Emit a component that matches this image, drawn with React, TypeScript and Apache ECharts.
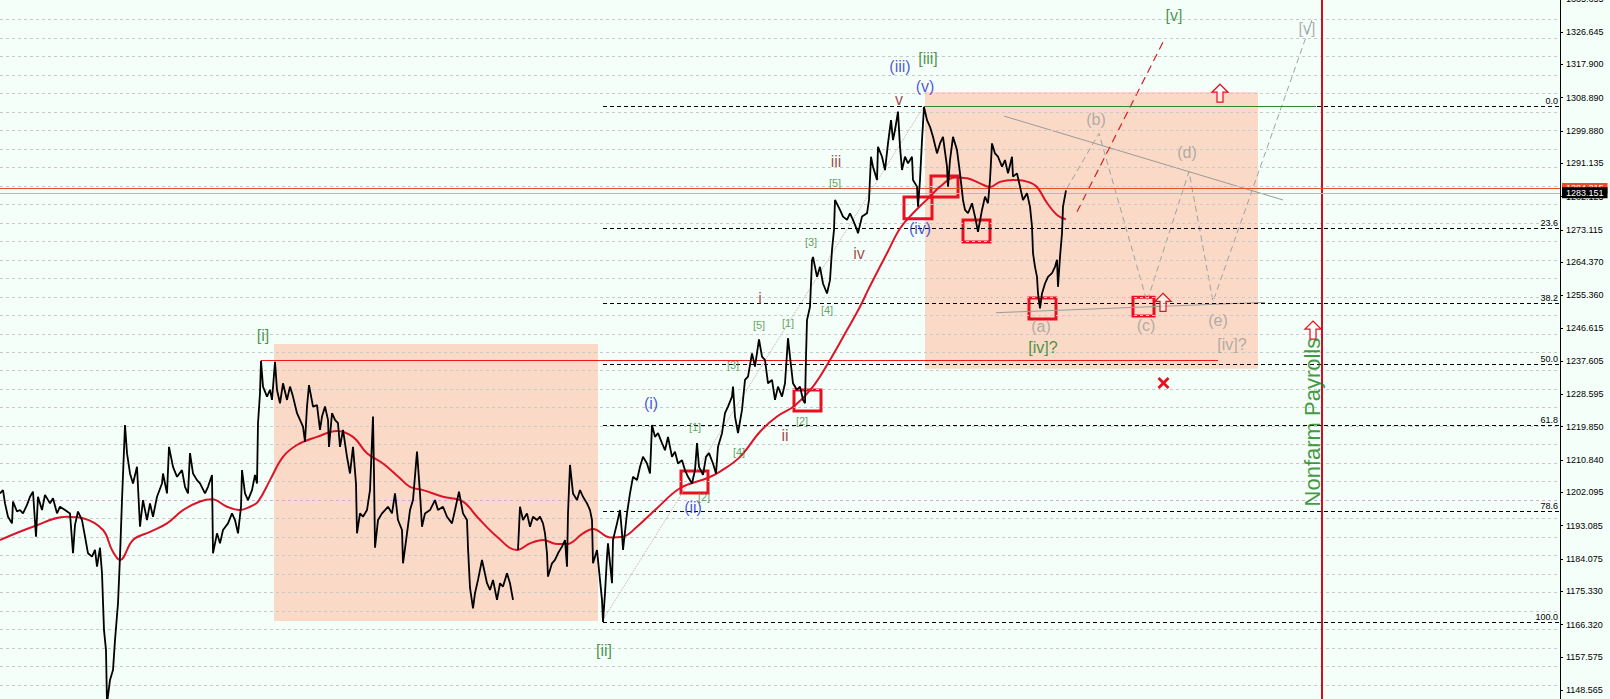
import React, { useEffect, useRef } from "react";
import * as echarts from "echarts";

// ---------- axis ----------
const yTicks = [1335.655, 1326.645, 1317.9, 1308.89, 1299.88, 1291.135, 1282.125, 1273.115, 1264.37, 1255.36, 1246.615, 1237.605, 1228.595, 1219.85, 1210.84, 1202.095, 1193.085, 1184.075, 1175.33, 1166.32, 1157.575, 1148.565];
const gridLevels = [1150, 1155, 1160, 1165, 1170, 1175, 1180, 1185, 1190, 1195, 1200, 1205, 1210, 1215, 1220, 1225, 1230, 1235, 1240, 1245, 1250, 1255, 1260, 1265, 1270, 1275, 1280, 1285, 1290, 1295, 1300, 1305, 1310, 1315, 1320, 1325, 1330];
const roundLevel = 1200;
const Y_MIN = 1146.18;
const Y_MAX = 1335.655;
const X_MAX = 1560;

// ---------- price (bar index, price) ----------
const price: [number, number | null][] = [
  [0, 1201.8], [3, 1202.7], [5, 1199.1], [8, 1195.5], [12, 1193.7], [13, 1199.6], [17, 1196.9], [20, 1197.3], [23, 1196.4], [27, 1198.7], [30, 1200.9], [33, 1202.3], [36, 1190.1], [38, 1200.9], [42, 1197.3], [45, 1201.4], [50, 1199.1], [53, 1200.5], [57, 1196.4], [60, 1198.2], [65, 1197.3], [70, 1196.4], [73, 1185.6], [75, 1193.3], [78, 1196.9], [82, 1194.6], [85, 1190.1], [88, 1185.6], [92, 1184.7], [95, 1186.5], [97, 1182.0], [100, 1187.1], [102, 1180.2], [104, 1164.8], [106, 1159.4], [107, 1145.0], [110, 1151.3], [113, 1154.0], [115, 1162.1], [118, 1172.1], [120, 1184.7], [122, 1200.0], [125, 1220.3], [127, 1212.7], [130, 1207.2], [133, 1204.5], [137, 1209.0], [140, 1192.8], [143, 1200.0], [147, 1194.6], [150, 1199.1], [153, 1195.5], [157, 1200.9], [162, 1204.5], [163, 1207.2], [167, 1201.8], [169, 1214.4], [173, 1209.0], [177, 1206.3], [182, 1208.1], [185, 1203.6], [188, 1201.8], [190, 1212.7], [193, 1207.2], [197, 1205.4], [200, 1204.5], [205, 1201.8], [208, 1203.6], [212, 1206.8], [213, 1185.6], [217, 1191.0], [220, 1188.3], [223, 1191.9], [228, 1193.7], [232, 1196.4], [235, 1194.6], [238, 1191.0], [241, 1198.2], [242, 1208.1], [245, 1201.8], [248, 1200.0], [252, 1202.7], [255, 1206.8], [257, 1204.5], [258, 1220.8], [260, 1228.9], [261, 1237.7],
  [263, 1230.7], [267, 1228.0], [270, 1229.8], [272, 1227.1], [275, 1237.4], [277, 1229.8], [280, 1226.2], [283, 1231.6], [287, 1227.1], [290, 1230.7], [293, 1228.0], [297, 1223.5], [300, 1221.7], [303, 1219.9], [305, 1215.8], [307, 1225.3], [309, 1231.1], [313, 1225.3], [317, 1225.7], [320, 1219.0], [322, 1222.6], [325, 1225.3], [328, 1221.7], [329, 1214.4], [332, 1223.5], [335, 1221.7], [338, 1220.8], [340, 1214.4], [343, 1219.0], [347, 1211.7], [350, 1207.2], [353, 1214.4], [356, 1204.5], [357, 1191.0], [360, 1196.4], [363, 1195.5], [367, 1197.3], [370, 1202.7], [373, 1222.6], [374, 1207.2], [375, 1187.1], [378, 1194.6], [382, 1196.4], [385, 1197.3], [388, 1198.2], [392, 1196.4], [395, 1201.8], [398, 1194.6], [402, 1191.9], [403, 1182.9], [407, 1191.0], [410, 1197.3], [413, 1200.0], [417, 1213.1], [420, 1201.8], [422, 1192.8], [425, 1196.4], [430, 1197.3], [435, 1200.0], [438, 1197.3], [443, 1198.2], [447, 1195.5], [452, 1193.7], [455, 1197.3], [459, 1202.3], [463, 1196.4], [467, 1194.6], [468, 1187.1], [470, 1176.3], [473, 1170.7], [475, 1174.8], [478, 1178.4], [482, 1183.8], [487, 1177.5], [490, 1175.7], [493, 1178.4], [497, 1173.0], [500, 1177.5], [503, 1176.6], [507, 1180.2], [510, 1177.5], [513, 1173.0],
  [515, null],
  [518, 1186.5], [520, 1198.2], [523, 1194.6], [527, 1196.4], [530, 1192.8], [533, 1195.5], [537, 1194.6], [540, 1195.5], [543, 1193.7], [545, 1191.0], [547, 1185.6], [548, 1179.3], [552, 1182.9], [555, 1183.8], [558, 1185.6], [562, 1187.4], [565, 1189.2], [567, 1182.0], [568, 1196.4], [570, 1209.5], [573, 1201.8], [577, 1200.0], [580, 1202.7], [583, 1200.9], [587, 1199.1], [590, 1197.3], [592, 1194.6], [593, 1182.9], [597, 1186.5], [600, 1178.4], [602, 1173.0], [603, 1167.0], [605, 1174.8], [607, 1184.7], [608, 1188.3], [610, 1182.9], [612, 1177.5], [613, 1189.2], [617, 1193.7], [620, 1197.3], [622, 1191.0], [623, 1186.5], [627, 1196.4], [630, 1201.8], [633, 1206.3], [637, 1205.4], [640, 1209.0], [643, 1211.7], [647, 1209.9], [650, 1207.2], [652, 1220.3], [655, 1217.1], [658, 1218.1], [662, 1215.4], [665, 1213.5], [668, 1217.1], [672, 1211.7], [675, 1213.1], [678, 1209.9], [682, 1210.8], [685, 1208.1], [688, 1206.3], [692, 1204.5], [695, 1208.1], [697, 1215.4], [699, 1209.0], [703, 1206.8], [706, 1211.7], [709, 1212.7], [713, 1209.9], [716, 1207.2], [718, 1214.4], [722, 1218.1], [725, 1223.5], [728, 1225.3], [732, 1228.0], [733, 1230.7], [735, 1222.6], [738, 1218.1], [742, 1224.4], [745, 1232.5], [748, 1233.4], [752, 1239.7], [755, 1236.1], [759, 1243.5], [762, 1238.8], [765, 1237.9], [768, 1231.6], [772, 1232.5], [775, 1227.1], [778, 1230.7], [782, 1228.0], [785, 1231.6], [788, 1243.8], [790, 1238.8], [793, 1231.6], [797, 1229.8], [800, 1230.7], [803, 1227.1], [805, 1226.2], [806, 1238.8], [807, 1248.7], [810, 1252.3], [812, 1264.9], [813, 1265.8], [817, 1260.4], [820, 1263.1], [823, 1258.6], [827, 1255.9], [830, 1259.5], [832, 1267.7], [834, 1273.1], [835, 1281.2], [840, 1278.5], [843, 1276.7], [847, 1275.8], [850, 1277.6], [853, 1275.8], [857, 1273.1], [858, 1272.2], [862, 1276.7], [867, 1277.6], [869, 1281.2], [871, 1292.9], [873, 1290.2], [877, 1286.6], [878, 1295.6], [882, 1292.9], [885, 1289.3], [888, 1296.5], [891, 1302.8], [893, 1297.4], [895, 1300.1], [898, 1305.1], [900, 1295.6], [902, 1289.3], [905, 1292.9], [908, 1291.1], [912, 1292.9], [913, 1286.6], [917, 1284.8], [918, 1279.4], [920, 1286.6], [922, 1297.4], [924, 1306.4], [927, 1302.8], [930, 1301.0], [933, 1298.3], [937, 1293.8], [940, 1296.5], [943, 1298.3], [947, 1290.2], [948, 1284.8], [950, 1292.0], [953, 1298.3], [957, 1294.7], [960, 1288.4], [963, 1281.2], [965, 1278.5], [968, 1277.6], [972, 1280.3], [975, 1276.7], [978, 1272.6], [982, 1278.5], [985, 1282.1], [988, 1280.3], [990, 1286.6], [992, 1296.5], [995, 1293.8], [998, 1292.9], [1002, 1290.2], [1005, 1292.0], [1008, 1288.4], [1012, 1292.9], [1013, 1287.5], [1017, 1288.4], [1020, 1284.8], [1023, 1281.2], [1027, 1283.0], [1030, 1279.4], [1032, 1274.0], [1033, 1266.8], [1035, 1263.1], [1037, 1260.4], [1038, 1255.9], [1040, 1251.9], [1042, 1255.9], [1045, 1258.6], [1048, 1260.4], [1052, 1261.4], [1055, 1263.1], [1057, 1265.0], [1058, 1257.7], [1060, 1265.8], [1062, 1272.2], [1063, 1279.4], [1066, 1283.8],
];

// ---------- moving average ----------
const movingAverage: [number, number][] = [
  [0, 1189.2], [33, 1192.8], [67, 1195.5], [83, 1195.1], [103, 1191.9], [112, 1186.5], [120, 1183.8], [133, 1189.2], [150, 1191.4], [167, 1193.7], [183, 1197.3], [200, 1199.6], [212, 1200.2], [227, 1198.2], [240, 1197.3], [250, 1198.2], [258, 1199.6], [270, 1205.4], [283, 1211.7], [297, 1214.9], [317, 1217.1], [337, 1218.7], [353, 1217.1], [367, 1212.7], [383, 1209.9], [400, 1205.9], [410, 1203.6], [423, 1202.7], [443, 1200.9], [463, 1199.6], [477, 1195.5], [497, 1190.1], [517, 1186.5], [530, 1188.3], [543, 1189.2], [557, 1188.1], [567, 1188.1], [583, 1191.0], [593, 1192.2], [610, 1189.9], [623, 1190.1], [637, 1192.8], [657, 1197.8], [680, 1203.2], [707, 1205.9], [720, 1207.7], [740, 1211.7], [760, 1218.5], [777, 1222.6], [795, 1225.6], [813, 1230.7], [830, 1237.9], [847, 1246.0], [860, 1252.3], [868, 1256.8], [887, 1266.8], [900, 1273.5], [913, 1277.6], [930, 1282.1], [940, 1284.8], [955, 1287.3], [967, 1287.1], [980, 1285.7], [990, 1284.7], [1000, 1286.1], [1013, 1286.6], [1028, 1286.1], [1037, 1284.7], [1047, 1280.4], [1058, 1276.9], [1066, 1276.0],
];

// ---------- fibonacci ----------
const fibStartBar = 603;
const fibLabels = ["0.0", "23.6", "38.2", "50.0", "61.8", "78.6", "100.0"];
const fibPrices = [1306.5, 1273.6, 1253.2, 1236.75, 1220.3, 1196.85, 1167.0];

// ---------- current prices ----------
const askPrice = 1284.315;
const bidPrice = 1283.151;

// ---------- zones & boxes (bar1, price1, bar2, price2) ----------
const peachZones: number[][] = [
  [274, 1242.2, 598, 1167.3],
  [925, 1310.4, 1258, 1235.5],
];
const pivotBoxes: number[][] = [
  [681, 1207.9, 708, 1201.9],
  [794, 1229.8, 821, 1224.1],
  [904, 1282.0, 932, 1276.1],
  [931, 1287.7, 958, 1282.0],
  [963, 1275.8, 990, 1269.8],
  [1029, 1254.7, 1056, 1249.0],
  [1133, 1254.9, 1154, 1249.8],
];

// ---------- trend / projection lines ----------
const waveIHigh = { from: 261, to: 1218, price: 1237.77 };
const waveIIIHigh = { from: 924, to: 1316, price: 1306.5 };
const channelLine: [number, number][] = [[603, 1167.6], [924, 1306.6]];
const upperTriangle: [number, number][] = [[1004, 1303.9], [1283, 1281.2]];
const lowerTriangle: [number, number][] = [[996, 1250.7], [1265, 1253.5]];
const trianglePath: [number, number][] = [[1067, 1284.4], [1099, 1299.2], [1147, 1253.7], [1189, 1288.9], [1213, 1253.7], [1312, 1329.9]];
const impulseTarget: [number, number][] = [[1077, 1278.0], [1163, 1323.9]];
const newsBar = 1322;

// ---------- arrows & marks ----------
const upArrows: [number, number][] = [[1220, 1310.1], [1163, 1253.5], [1313, 1246.0]];
const crossMarks: [number, number][] = [[1163.5, 1231.7]];

// ---------- wave labels ----------
type Lbl = { text: string; bar: number; price: number };
const greenLabels: Lbl[] = [
  { text: "[i]", bar: 263, price: 1244.4 },
  { text: "[ii]", bar: 604, price: 1159.4 },
  { text: "[iii]", bar: 928, price: 1319.6 },
  { text: "[v]", bar: 1174, price: 1331.0 },
  { text: "[iv]?", bar: 1043, price: 1241.4 },
];
const blueLabels: Lbl[] = [
  { text: "(i)", bar: 651, price: 1226.0 },
  { text: "(ii)", bar: 693, price: 1198.1 },
  { text: "(iii)", bar: 900, price: 1317.4 },
  { text: "(v)", bar: 925, price: 1311.8 },
  { text: "(iv)", bar: 920, price: 1273.6 },
];
const redLabels: Lbl[] = [
  { text: "i", bar: 760, price: 1254.5 },
  { text: "ii", bar: 785, price: 1217.6 },
  { text: "iii", bar: 836, price: 1291.5 },
  { text: "iv", bar: 859, price: 1266.6 },
  { text: "v", bar: 899, price: 1308.5 },
];
const minorLabels: Lbl[] = [
  { text: "[1]", bar: 695, price: 1219.8 },
  { text: "[2]", bar: 704, price: 1200.8 },
  { text: "[3]", bar: 733, price: 1236.5 },
  { text: "[4]", bar: 739, price: 1213.0 },
  { text: "[5]", bar: 759, price: 1247.5 },
  { text: "[1]", bar: 788, price: 1248.0 },
  { text: "[2]", bar: 802, price: 1221.5 },
  { text: "[3]", bar: 811, price: 1269.8 },
  { text: "[4]", bar: 827, price: 1251.3 },
  { text: "[5]", bar: 835, price: 1285.8 },
];
const grayLabels: Lbl[] = [
  { text: "(a)", bar: 1041, price: 1246.9 },
  { text: "(b)", bar: 1096, price: 1303.1 },
  { text: "(c)", bar: 1146, price: 1247.1 },
  { text: "(d)", bar: 1187, price: 1294.0 },
  { text: "(e)", bar: 1218, price: 1248.5 },
  { text: "[iv]?", bar: 1232, price: 1242.0 },
  { text: "[v]", bar: 1307, price: 1327.7 },
];
const newsLabel: Lbl[] = [{ text: "Nonfarm Payrolls", bar: 1312, price: 1221.1 }];

const FONT = "'Liberation Sans', Arial, sans-serif";
const RED = "#E8101E";

function textSeries(items: Lbl[], color: string, size: number, extra: any = {}) {
  return {
    type: "scatter",
    z: 40,
    silent: true,
    symbolSize: 1,
    itemStyle: { color: "rgba(0,0,0,0)" },
    emphasis: { disabled: true },
    data: items.map((it) => ({ value: [it.bar, it.price], label: { formatter: it.text } })),
    label: { show: true, position: "inside", color, fontSize: size, fontFamily: FONT, ...extra },
  };
}

function lineSeries(points: [number, number][], color: string, width: number, type: any, z: number) {
  return {
    type: "line",
    z,
    silent: true,
    showSymbol: false,
    symbol: "none",
    emphasis: { disabled: true },
    data: points,
    lineStyle: { color, width, type },
  };
}

function hLine(from: number, to: number, p: number, color: string, width: number) {
  return [
    { coord: [from, p], lineStyle: { color, width, type: "solid" } },
    { coord: [to, p] },
  ];
}

export default function App() {
  const ref = useRef<HTMLDivElement>(null);
  useEffect(() => {
    if (!ref.current) return;
    const chart = echarts.init(ref.current, undefined, { renderer: "svg" });
    const option: any = {
      animation: false,
      backgroundColor: "#F5FFFA",
      grid: { left: 0, right: 50, top: -1.3, bottom: 0, containLabel: false, outerBoundsMode: "none" },
      xAxis: { type: "value", min: 0, max: X_MAX, show: false },
      yAxis: {
        type: "value",
        position: "right",
        min: Y_MIN,
        max: Y_MAX,
        axisLine: { show: true, onZero: false, lineStyle: { color: "#000", width: 1 } },
        axisTick: { show: true, inside: false, length: 3, lineStyle: { color: "#000" }, customValues: yTicks },
        axisLabel: {
          show: true,
          customValues: yTicks,
          color: "#000",
          fontSize: 9,
          fontFamily: FONT,
          margin: 6,
          hideOverlap: false,
          formatter: (v: number) => v.toFixed(3),
        },
        splitLine: { show: false },
      },
      series: [
        // peach zones
        {
          type: "line",
          z: 1,
          silent: true,
          data: [],
          markArea: {
            silent: true,
            itemStyle: { color: "#FADAC6" },
            data: peachZones.map((b) => [{ coord: [b[0], b[1]] }, { coord: [b[2], b[3]] }]),
          },
        },
        // grid lines
        {
          type: "line",
          z: 2,
          silent: true,
          data: [],
          markLine: {
            silent: true,
            symbol: ["none", "none"],
            label: { show: false },
            data: gridLevels.map((v) => ({
              yAxis: v,
              lineStyle: { color: v === roundLevel ? "#D8A8D8" : "#C9C9C9", width: 1, type: [3, 3] },
            })),
          },
        },
        // fibonacci levels & horizontal structure lines
        {
          type: "line",
          z: 3,
          silent: true,
          data: [],
          markLine: {
            silent: true,
            symbol: ["none", "none"],
            label: { show: false },
            data: [
              ...fibPrices.map((p, i) => [
                {
                  coord: [fibStartBar, p],
                  lineStyle: { color: "#000", width: 1, type: [4, 3] },
                  label: {
                    show: true,
                    position: "insideEndTop",
                    formatter: fibLabels[i],
                    color: "#000",
                    fontSize: 9,
                    fontFamily: FONT,
                    distance: [2, 1],
                  },
                },
                { coord: [X_MAX, p] },
              ]),
              hLine(waveIHigh.from, waveIHigh.to, waveIHigh.price, "#EE1A1A", 1.2),
              hLine(waveIIIHigh.from, waveIIIHigh.to, waveIIIHigh.price, "#2E8B2E", 1),
              { xAxis: newsBar, lineStyle: { color: "#D0101E", width: 2, type: "solid" } },
            ],
          },
        },
        lineSeries(channelLine, "#C9A6A6", 1, "dotted", 4),
        lineSeries(upperTriangle, "#9A9A9A", 1, "solid", 4),
        lineSeries(lowerTriangle, "#9A9A9A", 1, "solid", 4),
        lineSeries(trianglePath, "#A0A0A0", 1, [6, 4], 4),
        lineSeries(impulseTarget, "#D42020", 1.2, [8, 5], 4),
        // moving average
        {
          type: "line",
          z: 5,
          silent: true,
          showSymbol: false,
          symbol: "none",
          smooth: 0.4,
          data: movingAverage,
          lineStyle: { color: "#DC1428", width: 2 },
        },
        // price
        {
          type: "line",
          z: 6,
          silent: true,
          showSymbol: false,
          symbol: "none",
          connectNulls: false,
          data: price,
          lineStyle: { color: "#000", width: 1.8 },
        },
        // pivot boxes, arrows, marks
        {
          type: "line",
          z: 8,
          silent: true,
          data: [],
          markArea: {
            silent: true,
            itemStyle: { color: "rgba(0,0,0,0)", borderColor: RED, borderWidth: 3 },
            data: pivotBoxes.map((b) => [{ coord: [b[0], b[1]] }, { coord: [b[2], b[3]] }]),
          },
          markPoint: {
            silent: true,
            label: { show: false },
            data: [
              ...upArrows.map((a) => ({
                coord: a,
                symbol: "path://M8,0L16,8L11,8L11,18L5,18L5,8L0,8Z",
                symbolSize: [16, 18],
                itemStyle: { color: "rgba(255,255,255,0.55)", borderColor: RED, borderWidth: 1.3 },
              })),
              ...crossMarks.map((c) => ({
                coord: c,
                symbol: "path://M0,2L2,0L6,4L10,0L12,2L8,6L12,10L10,12L6,8L2,12L0,10L4,6Z",
                symbolSize: [12, 12],
                itemStyle: { color: RED },
              })),
            ],
          },
        },
        // current price lines with right-side tags
        {
          type: "line",
          z: 30,
          silent: true,
          data: [],
          markLine: {
            silent: true,
            symbol: ["none", "none"],
            data: [
              {
                yAxis: askPrice,
                lineStyle: { color: "#E0502A", width: 1, type: "solid" },
                label: {
                  show: true,
                  position: "end",
                  formatter: askPrice.toFixed(3),
                  backgroundColor: "#E0502A",
                  color: "#fff",
                  fontSize: 9,
                  fontFamily: FONT,
                  padding: [1, 4, 1, 4],
                  distance: 2,
                },
              },
              {
                yAxis: bidPrice,
                lineStyle: { color: "#B8B8B8", width: 1, type: "solid" },
                label: {
                  show: true,
                  position: "end",
                  formatter: bidPrice.toFixed(3),
                  backgroundColor: "#000",
                  color: "#fff",
                  fontSize: 9,
                  fontFamily: FONT,
                  padding: [1, 4, 1, 4],
                  distance: 2,
                },
              },
            ],
          },
        },
        textSeries(greenLabels, "#1C7A1C", 16),
        textSeries(blueLabels, "#1E30D0", 16),
        textSeries(redLabels, "#8B1C1C", 16),
        textSeries(minorLabels, "#3C8C3C", 11),
        textSeries(grayLabels, "#9C9C9C", 16),
        textSeries(newsLabel, "#0E800E", 22, { rotate: 90 }),
      ],
    };
    chart.setOption(option);
    return () => chart.dispose();
  }, []);
  return (
    <div
      ref={ref}
      style={{ position: "fixed", left: 0, top: 0, width: 1610, height: 699 }}
    />
  );
}
